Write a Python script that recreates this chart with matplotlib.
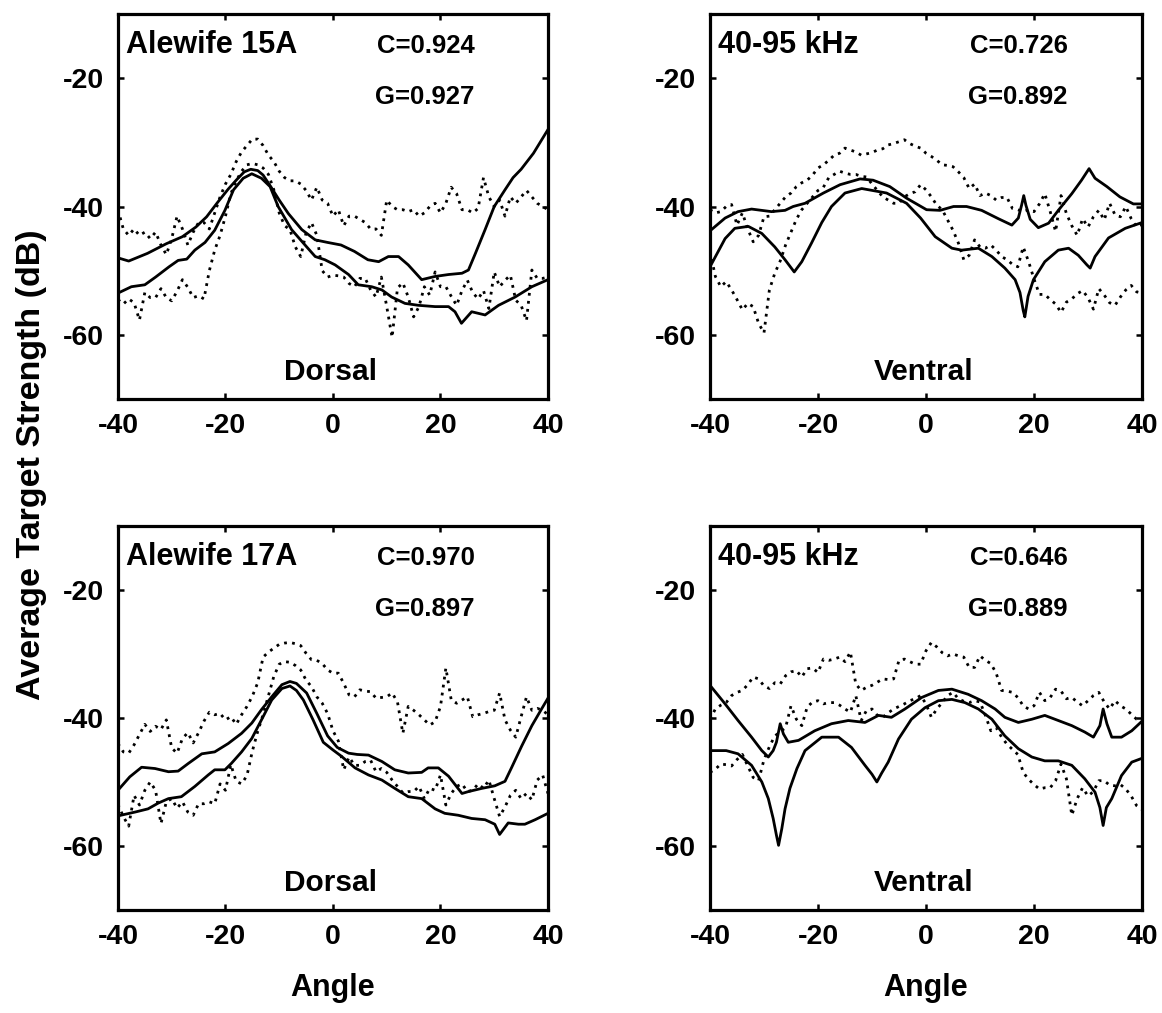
import matplotlib
matplotlib.use("Agg")
import matplotlib.pyplot as plt

plt.rcParams['font.family'] = ['Liberation Sans', 'DejaVu Sans']
plt.rcParams['font.weight'] = 'bold'
plt.rcParams['axes.unicode_minus'] = False

# 1-degree grid used by the measured (dotted) curves
angle_deg = list(range(-40, 41))

# ---- Alewife 15A, dorsal (top left) ----
tl_a_x = [-40, -38, -34.5, -31, -28, -25.5, -23.5, -21.5, -19.5, -18, -16.5, -15.3, -14, -13, -11.5, -10,
          -8.3, -5.8, -3.3, -1, 1.5, 4, 6.5, 8.5, 10.3, 12.2, 14, 16.5, 19, 21.5, 24, 25.2, 26.5, 28.3,
          30, 32, 33.5, 35, 37.3, 40]
tl_a_y = [-48, -48.5, -47.3, -45.8, -44.7, -43.2, -41.6, -39.4, -37.3, -35.9, -34.6, -34.2, -34.4, -35.1,
          -37, -39, -41.1, -43.6, -45.2, -45.6, -46, -47, -48.3, -48.6, -47.8, -47.8, -49.1, -51.4, -50.9,
          -50.6, -50.4, -49.9, -47.3, -43.6, -40, -37.4, -35.5, -34.2, -31.7, -28]
tl_b_x = [-40, -37.5, -35, -33, -30.5, -28.8, -27.2, -25.7, -23.8, -22, -20.1, -18.5, -16.7, -15.1, -13.3,
          -11.7, -10.2, -7.7, -5.2, -3.3, -1.5, 0.4, 2.9, 4.7, 7.2, 9.1, 10.9, 13.4, 15.9, 19, 21.5, 22.7,
          23.9, 25.8, 28.3, 30.8, 33.9, 37, 40]
tl_b_y = [-53.5, -52.5, -52.2, -51, -49.4, -48.4, -48.2, -46.8, -45.6, -43.7, -40.6, -37.4, -35.6, -34.9,
          -35.6, -36.9, -40, -43.6, -46, -47.8, -48.3, -49.1, -50.6, -52.2, -52.5, -53, -54.1, -55.1, -55.4,
          -55.6, -55.6, -56.4, -58.2, -56.4, -56.9, -55.4, -54.1, -52.5, -51.4]
tl_dot_hi = [-40.5, -43.5, -44.5, -43.5, -44.5, -44, -45, -44, -46, -47.5, -45, -41.5, -43.5, -46, -44,
             -42.5, -42.5, -43.5, -41, -38.5, -36.5, -35, -33, -31.5, -30.5, -29.5, -29.5, -30.5, -32, -33,
             -34.5, -35.5, -36, -36, -36.5, -37.5, -39, -37, -39, -39.5, -41.5, -40.5, -43, -41.5, -41.5,
             -42, -42.5, -43.5, -43.5, -44.5, -39, -40, -40.5, -40.5, -40.8, -40.5, -41.5, -41, -40, -39.5,
             -41, -39.5, -37, -38, -40.5, -40.5, -41, -40.3, -35.5, -38.5, -40, -39, -41.5, -38.5, -39.5,
             -38.5, -37.5, -38.5, -39.5, -40, -40.5]
tl_dot_lo = [-54.5, -55.2, -54.4, -55, -57.7, -53.4, -54.2, -54.2, -52.8, -54.2, -54.7, -53.2, -51.4, -52.6,
             -54.2, -53.9, -54.4, -50, -46.8, -44.5, -41.5, -38, -36, -34.5, -33.5, -33.3, -33.5, -34, -35,
             -37.4, -41, -43, -43.6, -46.3, -47.8, -44.1, -42.5, -44.5, -50, -51, -50.7, -50.8, -51, -52,
             -52.5, -51.2, -51.2, -53, -54.1, -51, -55.6, -60.4, -52.7, -51.9, -54.1, -57.2, -55.6, -52.5,
             -53.8, -50.2, -52.5, -52.5, -54, -55.4, -53.1, -51.5, -53.4, -54.4, -53.1, -55.9, -50.2, -52.5,
             -51.5, -50.7, -54.6, -55.4, -57.8, -49.9, -51.2, -51.2, -51]

# ---- 40-95 kHz, ventral (top right) ----
tr_a_x = [-40, -37.2, -34.8, -32.3, -28.6, -26.1, -24.6, -22.4, -19, -15.9, -12.2, -9.8, -6.7, -3.6, 0.1,
          2.6, 5.1, 7.5, 10.3, 13.4, 15.9, 17.1, 17.7, 18.1, 18.5, 19.3, 20.8, 22.7, 24.5, 27, 28.8, 30.2,
          31.3, 33.5, 35.9, 38.4, 40]
tr_a_y = [-43.8, -41.8, -40.8, -40.4, -40.8, -40.6, -40, -39.5, -37.9, -36.6, -35.7, -35.9, -36.9, -38.7,
          -40.5, -40.6, -40, -40, -40.6, -41.9, -42.9, -41.8, -39.8, -38.3, -39.8, -42, -43.3, -42.6, -40.6,
          -38, -35.9, -34.1, -35.6, -36.9, -38.5, -39.6, -39.6]
tr_b_x = [-40, -37.2, -35.4, -32.9, -30.4, -28, -26.1, -24.4, -23, -21.2, -19.3, -17.5, -15, -11.9, -7.3,
          -3.6, -1, 1.7, 4.8, 6.6, 9.7, 12.2, 14.6, 16.5, 17.4, 18, 18.3, 18.9, 19.9, 22, 24.5, 26.4, 28.2,
          29.8, 30.4, 31.3, 33.8, 36.9, 40]
tr_b_y = [-49.4, -45, -43.4, -43.1, -44.2, -46.3, -48.3, -50.2, -48.6, -45.7, -42.5, -40, -37.9, -37.2, -37.9,
          -39.5, -41.8, -44.7, -46.5, -46.8, -46.5, -47.8, -49.6, -51.4, -53.4, -56.2, -57.2, -54, -51.4,
          -48.6, -46.8, -46.5, -47.6, -49.1, -49.6, -47.8, -44.9, -43.4, -42.5]
tr_dot_hi = [-40.5, -41, -40.8, -40, -39.7, -42.9, -41, -43.5, -45.5, -44.5, -41.6, -41.5, -40.5, -39.5,
             -38.5, -37.9, -36.9, -36.3, -35.9, -35.1, -34, -33.5, -32.8, -32, -31.7, -30.9, -31.2, -31.5,
             -32, -31.8, -31.6, -31.2, -31, -30.4, -30.2, -29.9, -29.6, -30.2, -30.6, -30.9, -31.7, -32.2,
             -32.8, -33.5, -33.6, -33.8, -34.6, -35.5, -37.2, -36.5, -38.3, -37.9, -38.3, -39, -38.6, -38.6,
             -40.3, -40.5, -40.8, -40.5, -40.8, -39.6, -38, -40.8, -43.9, -38.3, -41.1, -43, -44.5, -41.9,
             -43.2, -41.6, -40.6, -42.1, -39.5, -41.3, -41.6, -40, -41.9, -43.2, -42.8]
tr_dot_lo = [-47, -50.9, -52.5, -51.7, -53, -54.5, -56.1, -55.1, -55.6, -58.2, -59.7, -53, -50.4, -48.5,
             -46, -44, -42, -40.5, -39.5, -38.5, -37.5, -37, -35.5, -35, -34.5, -34.8, -35, -35, -35.3, -35.4,
             -36.5, -37.5, -38.5, -39, -39.5, -39.5, -38.5, -38, -37.7, -36.6, -37.4, -38.5, -39.8, -40.5,
             -42.1, -43.7, -45.7, -48.3, -47.6, -45.2, -46.3, -46.5, -46, -46.8, -47.8, -48.3, -49, -49.4,
             -46.3, -48.6, -51.3, -53.7, -53.7, -54.5, -55.2, -56.5, -54.9, -54.4, -53.6, -53.1, -54.2, -56,
             -52.8, -53.8, -55, -55.4, -54.1, -53, -52.3, -53.3, -53.5]

# ---- Alewife 17A, dorsal (bottom left) ----
bl_a_x = [-40, -37.8, -35.6, -33.1, -30.6, -28.8, -26.9, -24.4, -22, -19.5, -17, -15.1, -13.3, -11.4, -9.5,
          -8, -6.8, -4.9, -3, -1, 0.8, 2.9, 4.5, 6.6, 9.1, 11.5, 14, 16.5, 17.7, 19.6, 21.5, 24, 25.2, 27.7,
          30.1, 32, 33.2, 35.1, 37, 38.8, 40]
bl_a_y = [-51.3, -49.2, -47.7, -47.9, -48.4, -48.3, -47.1, -45.6, -45.3, -44, -42.4, -40.8, -38.7, -36.7,
          -34.8, -34.3, -34.6, -36.1, -39.3, -42.8, -44.6, -45.5, -45.7, -45.8, -46.8, -48.1, -48.6, -48.5,
          -47.8, -47.8, -49.1, -51.8, -51.5, -51, -50.6, -49.9, -47.8, -44.4, -41.2, -38.6, -36.9]
bl_b_x = [-40, -36.8, -34.4, -32.5, -30.6, -28.2, -25.7, -23.2, -22, -20.1, -18.9, -17, -15.1, -13.3, -11.4,
          -9.5, -8, -6.8, -5.5, -3.7, -1.8, 0, 1.6, 4.1, 6.6, 9.1, 11.5, 14, 16.5, 19, 20.8, 23.3, 25.8,
          28.3, 30.1, 31, 32.6, 34.5, 35.7, 37.6, 40]
bl_b_y = [-55.3, -54.7, -54.2, -53.3, -52.6, -52.3, -50.7, -48.9, -48.1, -48.1, -47.1, -45.3, -43.2, -40.3,
          -37.2, -35.4, -35, -35.7, -37.2, -40.3, -43.8, -45, -46, -47.8, -48.9, -49.7, -51, -52.3, -52.6,
          -54.2, -54.9, -55.2, -55.7, -55.9, -56.6, -58.2, -56.4, -56.6, -56.6, -55.9, -54.9]
bl_dot_hi = [-44, -45.3, -45.5, -44.2, -42.6, -41, -42.1, -41.3, -41.8, -40.3, -44.7, -45.5, -43.2, -42.3,
             -43.9, -42.3, -40.5, -39.1, -39.5, -39.3, -40.3, -39.8, -41, -39.5, -38.2, -36.6, -34.5, -30.5,
             -29.7, -29.1, -28.5, -28.3, -28.2, -28.4, -28.7, -29.9, -30.9, -31, -31.5, -32.5, -33, -33,
             -34.6, -36.4, -36.7, -35.6, -35.8, -35.9, -36.9, -36.8, -36.7, -36.1, -37.5, -42.4, -38.2,
             -38.8, -39.5, -40.3, -41.1, -40.6, -38.2, -32.2, -37.2, -37.7, -37.2, -36.7, -39.8, -39.5,
             -39.3, -39, -38.8, -36.1, -40.3, -41.9, -43, -39.8, -36.7, -38.8, -38.5, -38.8, -39.5]
bl_dot_lo = [-53.5, -55.4, -56.9, -52.1, -53.6, -51.3, -50, -51.3, -56.5, -53.1, -52.6, -54.1, -53.1, -54.7,
             -55.2, -53.4, -53.4, -53.1, -53.4, -50.3, -51.3, -47.3, -49.9, -50.3, -49, -45.2, -42.1, -39.5,
             -36.5, -33.5, -31.6, -31.2, -31.3, -31.8, -32.5, -34.1, -35.1, -36.7, -37.7, -39.3, -42, -43.6,
             -48.1, -46.1, -47.4, -47.4, -46.8, -46.6, -48.4, -47.9, -48.5, -49.7, -50.7, -51.7, -51.5,
             -51.5, -50.7, -52.6, -51, -51.3, -48.9, -53.6, -51.8, -50.7, -50.3, -51.5, -51.3, -50.3, -51,
             -49.7, -52.6, -55.4, -53.9, -52.1, -51.3, -52.6, -51.8, -52.8, -49.7, -48.9, -51.8]

# ---- 40-95 kHz, ventral (bottom right) ----
br_a_x = [-40, -37.2, -34.8, -32.3, -30.4, -29.2, -28.3, -27.7, -27, -26.4, -25.5, -23.6, -20.6, -17.5,
          -14.4, -11.3, -8.8, -6.4, -3.9, -0.8, 2.3, 4.8, 7.8, 10.3, 12.8, 14.6, 17.1, 19.6, 22, 24.5, 27,
          29.4, 31, 32.2, 32.8, 33.5, 34.4, 36.2, 38.1, 40]
br_a_y = [-34.9, -37.8, -40.4, -43, -45.1, -46.1, -45.1, -43.8, -40.9, -42.5, -43.8, -43.5, -42, -40.9,
          -40.4, -40.7, -39.6, -39.9, -38.6, -36.8, -35.7, -35.5, -36.3, -37.3, -38.6, -39.9, -40.7, -40.2,
          -39.6, -40.4, -41.2, -42.2, -43, -41.2, -38.6, -40.9, -43, -43, -42, -40.5]
br_b_x = [-40, -37, -34.8, -32.3, -30.4, -29.2, -28.3, -27.7, -27.3, -26.7, -26.1, -25.2, -23.9, -22.4,
          -19.3, -16.2, -13.8, -11.3, -10, -9.1, -8.2, -7, -5.1, -2.7, -0.2, 2.3, 4.8, 7.2, 9.7, 12.2, 14.6,
          17.1, 19.6, 22, 24.5, 27, 29.4, 31.3, 32.2, 32.8, 33.4, 34.4, 36.2, 38.1, 40]
br_b_y = [-45.1, -45.1, -45.6, -47.4, -50, -52.6, -55.7, -58.3, -59.9, -57.3, -54.2, -51, -47.9, -45.1,
          -43, -43, -44.6, -47.4, -48.8, -50, -48.6, -46.9, -43.3, -40.2, -38.4, -37.3, -37.1, -37.6, -38.6,
          -40.2, -42.8, -44.8, -46.1, -46.7, -46.7, -47.4, -49.5, -51.6, -54, -56.8, -54, -52.6, -49, -46.9,
          -46.3]
br_dot_hi = [-40.2, -38.6, -38, -37.6, -36.5, -36, -35.7, -34.8, -33.6, -33.9, -35, -35.4, -34.5, -34.7,
             -33.4, -32.8, -32.6, -33.6, -32.3, -32.2, -32.9, -30.8, -31, -30.8, -30.5, -31.2, -29.7, -34.7,
             -35.7, -35.2, -34.9, -34.4, -33.9, -34, -33.9, -31, -30.8, -31.2, -31.6, -31.6, -29.5, -28.2,
             -28.9, -29.8, -30.3, -30, -30.3, -30.5, -32.1, -32.1, -30.3, -31, -31.5, -33, -35.7, -35.8, -36,
             -36.8, -38.1, -38.6, -38.1, -36, -37.3, -36.8, -35.5, -35.8, -37, -36.8, -37.5, -38.1, -37.3,
             -36.5, -36, -37.5, -38.6, -37.3, -38.1, -38.6, -39.4, -40.2, -40.5]
br_dot_lo = [-48.5, -48, -47.2, -47.3, -47.5, -46.5, -45.7, -47.5, -49.3, -49.8, -46.5, -44.5, -42.8, -42.2,
             -41.5, -38.1, -40.2, -41.2, -38.3, -37.5, -37.3, -37.8, -37.6, -37.6, -38, -38.6, -39.1, -36.5,
             -40.4, -38.8, -38.6, -39.6, -39.9, -39.2, -38.6, -38.2, -37.8, -37.3, -37, -36.5, -37.8, -39.9,
             -38.6, -37.6, -36.5, -36, -37, -37.4, -37.6, -37.3, -37.5, -39.6, -42, -41.5, -43, -44.1, -44.9,
             -45.7, -48.5, -49.6, -50.4, -51.1, -50.9, -50.9, -49.8, -47.2, -49.5, -55.2, -52.6, -50.9, -52.2,
             -51.5, -49.8, -49.8, -50.5, -50.6, -50.4, -51.1, -52.2, -53.7, -54.3]

panel_titles = ['Alewife 15A', '40-95 kHz', 'Alewife 17A', '40-95 kHz']
c_values = ['C=0.924', 'C=0.726', 'C=0.970', 'C=0.646']
g_values = ['G=0.927', 'G=0.892', 'G=0.897', 'G=0.889']
aspects = ['Dorsal', 'Ventral', 'Dorsal', 'Ventral']

panels = [
    (tl_a_x, tl_a_y, tl_b_x, tl_b_y, tl_dot_hi, tl_dot_lo),
    (tr_a_x, tr_a_y, tr_b_x, tr_b_y, tr_dot_hi, tr_dot_lo),
    (bl_a_x, bl_a_y, bl_b_x, bl_b_y, bl_dot_hi, bl_dot_lo),
    (br_a_x, br_a_y, br_b_x, br_b_y, br_dot_hi, br_dot_lo),
]

# axes rectangles in figure fractions (left, bottom, width, height)
rects = [
    (0.1015, 0.6061, 0.3701, 0.3801),
    (0.6110, 0.6061, 0.3718, 0.3801),
    (0.1015, 0.1017, 0.3701, 0.3791),
    (0.6110, 0.1017, 0.3718, 0.3791),
]

fig = plt.figure(figsize=(11.62, 10.13), dpi=100)

for i, (ax_x_a, ax_y_a, ax_x_b, ax_y_b, dot_hi, dot_lo) in enumerate(panels):
    ax = fig.add_axes(rects[i])
    ax.plot(ax_x_a, ax_y_a, color='black', lw=2.0, solid_joinstyle='round')
    ax.plot(ax_x_b, ax_y_b, color='black', lw=2.0, solid_joinstyle='round')
    # measured curves drawn as separated dots
    ax.plot(angle_deg, dot_hi, color='black', lw=2.0, linestyle=(0, (1, 1.9)))
    ax.plot(angle_deg, dot_lo, color='black', lw=2.0, linestyle=(0, (1, 1.9)))

    ax.set_xlim(-40, 40)
    ax.set_ylim(-70, -10)
    ax.set_xticks([-40, -20, 0, 20, 40])
    ax.set_yticks([-60, -40, -20])
    ax.tick_params(direction='in', length=4, width=1.8, top=True, right=True,
                   labelsize=20.5, pad=10)
    for lab in ax.get_xticklabels() + ax.get_yticklabels():
        lab.set_fontweight('bold')
    for sp in ax.spines.values():
        sp.set_linewidth(2.3)

    ax.text(-38.5, -16.1, panel_titles[i], fontsize=22, fontweight='bold', ha='left', va='baseline')
    ax.text(8.2, -16.1, c_values[i], fontsize=18.5, fontweight='bold', ha='left', va='baseline')
    ax.text(7.8, -24.1, g_values[i], fontsize=18.5, fontweight='bold', ha='left', va='baseline')
    ax.text(-0.5, -67.1, aspects[i], fontsize=21.5, fontweight='bold', ha='center', va='baseline')

fig.text(0.2866, 0.0247, 'Angle', fontsize=22, fontweight='bold', ha='center', va='center')
fig.text(0.7965, 0.0247, 'Angle', fontsize=22, fontweight='bold', ha='center', va='center')
fig.text(0.027, 0.541, 'Average Target Strength (dB)', fontsize=24.5, fontweight='bold',
         rotation=90, ha='center', va='center')

fig.savefig('out.png', dpi=100)
